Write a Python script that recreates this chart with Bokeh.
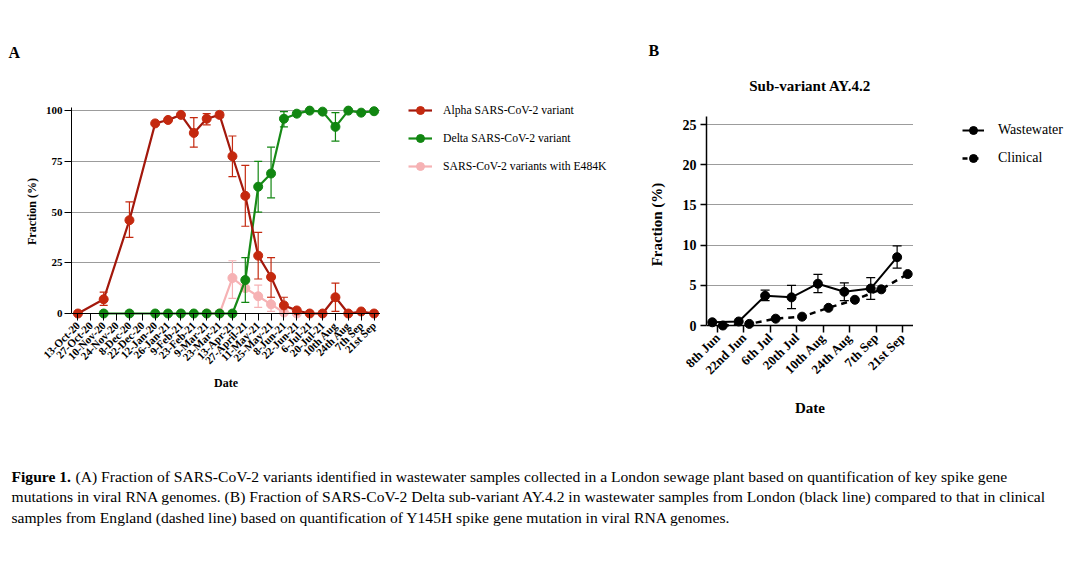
import math
from bokeh.plotting import figure
from bokeh.models import (ColumnDataSource, Whisker, TeeHead, Span, Legend, LegendItem,
                          Label, FixedTicker, FactorRange, Range1d)
from bokeh.layouts import row, column
from bokeh.transform import dodge
from bokeh.embed import file_html
from bokeh.resources import INLINE

SERIF = "Liberation Serif"

# ---------------- Panel A data ----------------
dates_a = ["13-Oct-20", "27-Oct-20", "10-Nov-20", "24-Nov-20", "8-Dec-20", "22-Dec-20",
           "12-Jan-20", "26-Jan-21", "9-Feb-21", "23-Feb-21", "9-Mar-21", "23-Mar-21",
           "13-Apr-21", "27-April-21", "11-May-21", "25-May-21", "8-Jun-21", "22-Jun-21",
           "6-Jul-21", "20-Jul-21", "10th Aug", "24th Aug", "7th Sep", "21st Sep"]
N = None
alpha = [0, N, 7, N, 46, N, 93.7, 95.4, 97.9, 89, 96, 97.9,
         77.5, 58, 28.5, 18, 4, 1.5, 0, 0, 8, 0, 1, 0]
alpha_lo = [N, N, 4, N, 37.5, N, N, N, N, 82, 93, 96.5,
            67.5, 43, 17, 8, 0, N, N, N, 1, N, N, N]
alpha_hi = [N, N, 10.5, N, 55, N, N, N, N, 96.5, 98.5, 99.3,
            87.5, 73, 40, 27.5, 8, N, N, N, 15, N, N, N]
delta = [N, N, 0, N, 0, N, 0, 0, 0, 0, 0, 0,
         0, 16.5, 62.5, 69, 96, 98.5, 100, 99.5, 92, 100, 99, 99.7]
delta_lo = [N, N, N, N, N, N, N, N, N, N, N, N,
            N, 5.5, 50, 57, 92, N, N, N, 85, N, N, N]
delta_hi = [N, N, N, N, N, N, N, N, N, N, N, N,
            N, 27.5, 75, 82, 99.5, N, N, N, 99, N, N, N]
e484k = [N, N, N, N, N, N, N, N, N, N, 0, 0,
         17.5, 12.5, 8.5, 4.5, 0.5, 0, N, N, N, N, N, N]
e484k_lo = [N, N, N, N, N, N, N, N, N, N, N, N,
            7.5, N, 3, 1, N, N, N, N, N, N, N, N]
e484k_hi = [N, N, N, N, N, N, N, N, N, N, N, N,
            26, N, 14, 8, N, N, N, N, N, N, N, N]
ticks_a = [0, 25, 50, 75, 100]
legend_a = ["Alpha SARS-CoV-2 variant", "Delta SARS-CoV-2 variant", "SARS-CoV-2 variants with E484K"]

# ---------------- Panel B data ----------------
dates_b = ["8th Jun", "22nd Jun", "6th Jul", "20th Jul", "10th Aug", "24th Aug", "7th Sep", "21st Sep"]
wastewater = [0.4, 0.5, 3.7, 3.5, 5.2, 4.2, 4.6, 8.5]
ww_lo = [N, N, 3.1, 2.1, 4.1, 3.1, 3.25, 7.15]
ww_hi = [N, N, 4.4, 5.0, 6.35, 5.3, 5.95, 9.9]
clinical = [0.0, 0.2, 0.85, 1.1, 2.2, 3.2, 4.5, 6.4]
ticks_b = [0, 5, 10, 15, 20, 25]
legend_b = ["Wastewater", "Clinical"]

RED_L, RED_M = "#a3180c", "#c4290f"
GRN_L, GRN_M = "#178a17", "#118611"
PNK = "#f6b2b4"
GRID = "#9c9c9c"


def pts(cats, vals):
    xs = [c for c, v in zip(cats, vals) if v is not None]
    ys = [v for v in vals if v is not None]
    return xs, ys


def errs(cats, lo, hi):
    xs = [c for c, a in zip(cats, lo) if a is not None]
    l = [a for a in lo if a is not None]
    h = [b for b in hi if b is not None]
    return ColumnDataSource(dict(x=xs, lo=l, hi=h))


def add_whisker(p, src, color, base="x", size=8):
    w = Whisker(source=src, base=base, lower="lo", upper="hi", dimension="height",
                line_color=color, line_width=1.2, level="glyph",
                upper_head=TeeHead(size=size, line_color=color, line_width=1.2),
                lower_head=TeeHead(size=size, line_color=color, line_width=1.2))
    p.add_layout(w)


def style_axes(p, tick_font, label_font, tick_len):
    for ax in (p.xaxis[0], p.yaxis[0]):
        ax.major_label_text_font = SERIF
        ax.major_label_text_font_style = "bold"
        ax.major_label_text_font_size = tick_font
        ax.major_label_text_color = "black"
        ax.axis_label_text_font = SERIF
        ax.axis_label_text_font_style = "bold"
        ax.axis_label_text_font_size = label_font
        ax.axis_label_text_color = "black"
        ax.minor_tick_line_color = None
        ax.major_tick_line_color = "black"
    xa = p.xaxis[0]
    xa.axis_line_color = None
    xa.major_tick_in = tick_len
    xa.major_tick_out = 0
    xa.major_label_orientation = math.pi / 4
    ya = p.yaxis[0]
    ya.axis_line_color = "black"
    ya.major_tick_in = 0
    ya.major_tick_out = tick_len


def blank(w, h, top=0, bottom=0):
    f = figure(width=w, height=h, output_backend="svg", toolbar_location=None,
               x_range=Range1d(0, 1), y_range=Range1d(0, 1), x_axis_type=None, y_axis_type=None,
               min_border_left=0, min_border_right=0, min_border_top=top, min_border_bottom=bottom)
    f.outline_line_color = None
    f.background_fill_color = None
    f.grid.visible = False
    return f


def txt(p, x, y, s, size, bold=False, align="left"):
    p.add_layout(Label(x=x, y=y, x_units="screen", y_units="screen", text=s,
                       text_font=SERIF, text_font_style="bold" if bold else "normal",
                       text_font_size=size, text_align=align, text_baseline="alphabetic",
                       text_color="black"))


# legend proxies sit outside the blank figure's 0..1 range, so only their legend glyphs show
OFF = [-5]

# ================= Panel A =================
pa = figure(width=380, height=338, output_backend="svg", toolbar_location=None,
            x_range=FactorRange(factors=dates_a, range_padding=0),
            y_range=Range1d(-3.45, 104),
            min_border_left=71, min_border_right=0, min_border_top=0, min_border_bottom=120)
pa.outline_line_color = None
pa.background_fill_color = None
pa.xgrid.visible = False
pa.ygrid.ticker = FixedTicker(ticks=ticks_a[1:])
pa.ygrid.grid_line_color = GRID
pa.ygrid.grid_line_width = 1.2
pa.yaxis.ticker = FixedTicker(ticks=ticks_a)
style_axes(pa, "11px", "12px", 7)
pa.yaxis[0].bounds = (0, 101.5)
pa.xaxis[0].major_label_text_font_size = "11px"
pa.xaxis[0].major_label_standoff = 3
pa.yaxis[0].major_label_standoff = 2
pa.xaxis[0].axis_label = "Date"
pa.yaxis[0].axis_label = "Fraction (%)"
pa.xaxis[0].axis_label_standoff = 3
pa.yaxis[0].axis_label_standoff = 4
pa.add_layout(Span(location=0, dimension="width", line_color="black", line_width=1.2))

add_whisker(pa, errs(dates_a, e484k_lo, e484k_hi), PNK)
add_whisker(pa, errs(dates_a, delta_lo, delta_hi), GRN_M)
add_whisker(pa, errs(dates_a, alpha_lo, alpha_hi), RED_M)

ex, ey = pts(dates_a, e484k)
pa.line(ex, ey, line_color=PNK, line_width=2.2)
pa.scatter(ex, ey, size=9, fill_color=PNK, line_color=PNK)
dx, dy = pts(dates_a, delta)
pa.line(dx, dy, line_color=GRN_L, line_width=2.2)
pa.scatter(dx, dy, size=9, fill_color=GRN_M, line_color=GRN_M)
ax_, ay_ = pts(dates_a, alpha)
pa.line(ax_, ay_, line_color=RED_L, line_width=2.2)
pa.scatter(ax_, ay_, size=9, fill_color=RED_M, line_color=RED_M)

la = blank(260, 338, top=0, bottom=120)
items_a = []
for lab, lc, mc in zip(legend_a, [RED_L, GRN_L, PNK], [RED_M, GRN_M, PNK]):
    r1 = la.line(x=OFF, y=OFF, line_color=lc, line_width=2.2)
    r2 = la.scatter(x=OFF, y=OFF, fill_color=mc, line_color=mc)
    items_a.append(LegendItem(label=lab, renderers=[r1, r2]))
la.add_layout(Legend(items=items_a, location=(28, 144), orientation="vertical",
                     glyph_width=24, glyph_height=20, label_standoff=11, spacing=8,
                     padding=0, margin=0, border_line_color=None, background_fill_alpha=0,
                     label_text_font=SERIF, label_text_font_size="11.7px",
                     label_text_color="black"))

ha = blank(640, 102)
txt(ha, 8, 49.7, "A", "16px", bold=True)

panel_a = column(ha, row(pa, la))

# ================= Panel B =================
pb = figure(width=273, height=324, output_backend="svg", toolbar_location=None,
            x_range=FactorRange(factors=dates_b, range_padding=-0.02),
            y_range=Range1d(-0.87, 26.0),
            min_border_left=66, min_border_right=0, min_border_top=0, min_border_bottom=108)
pb.outline_line_color = None
pb.background_fill_color = None
pb.xgrid.visible = False
pb.ygrid.ticker = FixedTicker(ticks=ticks_b[1:])
pb.ygrid.grid_line_color = GRID
pb.ygrid.grid_line_width = 1.2
pb.yaxis.ticker = FixedTicker(ticks=ticks_b)
style_axes(pb, "14px", "15px", 7)
pb.yaxis[0].bounds = (0, 26.0)
pb.xaxis[0].major_label_text_font_size = "13px"
pb.xaxis[0].major_tick_line_width = 1.5
pb.yaxis[0].major_tick_line_width = 1.5
pb.yaxis[0].axis_line_width = 1.5
pb.yaxis[0].major_tick_out = 6
pb.xaxis[0].major_label_standoff = 3
pb.yaxis[0].major_label_standoff = 4
pb.xaxis[0].axis_label = "Date"
pb.yaxis[0].axis_label = "Fraction (%)"
pb.xaxis[0].axis_label_standoff = 14
pb.yaxis[0].axis_label_standoff = 15
pb.add_layout(Span(location=0, dimension="width", line_color="black", line_width=1.5))

src_b = ColumnDataSource(dict(x=dates_b, ww=wastewater, cl=clinical))
xs_ww = dodge("x", -0.2, range=pb.x_range)
xs_cl = dodge("x", 0.2, range=pb.x_range)
add_whisker(pb, errs(dates_b, ww_lo, ww_hi), "black", base=dodge("x", -0.2, range=pb.x_range), size=9)

pb.line(x=xs_cl, y="cl", source=src_b, line_color="black", line_width=2.5, line_dash="6 5")
pb.scatter(x=xs_cl, y="cl", source=src_b, size=9, fill_color="black", line_color="black")
pb.line(x=xs_ww, y="ww", source=src_b, line_color="black", line_width=2)
pb.scatter(x=xs_ww, y="ww", source=src_b, size=9, fill_color="black", line_color="black")

lb = blank(165, 324, top=0, bottom=108)
items_b = []
for lab, dash, lw in zip(legend_b, ["solid", "5 6"], [2, 2.5]):
    r1 = lb.line(x=OFF, y=OFF, line_color="black", line_width=lw, line_dash=dash)
    r2 = lb.scatter(x=OFF, y=OFF, fill_color="black", line_color="black")
    items_b.append(LegendItem(label=lab, renderers=[r1, r2]))
lb.add_layout(Legend(items=items_b, location=(49, 164), orientation="vertical",
                     glyph_width=22, glyph_height=20, label_standoff=14, spacing=8,
                     padding=0, margin=0, border_line_color=None, background_fill_alpha=0,
                     label_text_font=SERIF, label_text_font_size="14px",
                     label_text_color="black"))

hb = blank(438, 116)
txt(hb, 8, 66, "B", "16px", bold=True)
txt(hb, 169.7, 30.5, "Sub-variant AY.4.2", "15px", bold=True, align="center")

panel_b = column(hb, row(pb, lb))

# ================= Caption =================
pc = blank(1078, 120)
cap_bold = "Figure 1."
cap_lines = ["(A) Fraction of SARS-CoV-2 variants identified in wastewater samples collected in a London sewage plant based on quantification of key spike gene",
             "mutations in viral RNA genomes. (B) Fraction of SARS-CoV-2 Delta sub-variant AY.4.2 in wastewater samples from London (black line) compared to that in clinical",
             "samples from England (dashed line) based on quantification of Y145H spike gene mutation in viral RNA genomes."]
txt(pc, 11, 84.5, cap_bold, "15.6px", bold=True)
txt(pc, 75, 84.5, cap_lines[0], "15.6px")
txt(pc, 11, 64, cap_lines[1], "15.6px")
txt(pc, 11, 43.5, cap_lines[2], "15.6px")

layout = column(row(panel_a, panel_b), pc)
open("out.html", "w").write(file_html(layout, INLINE))
